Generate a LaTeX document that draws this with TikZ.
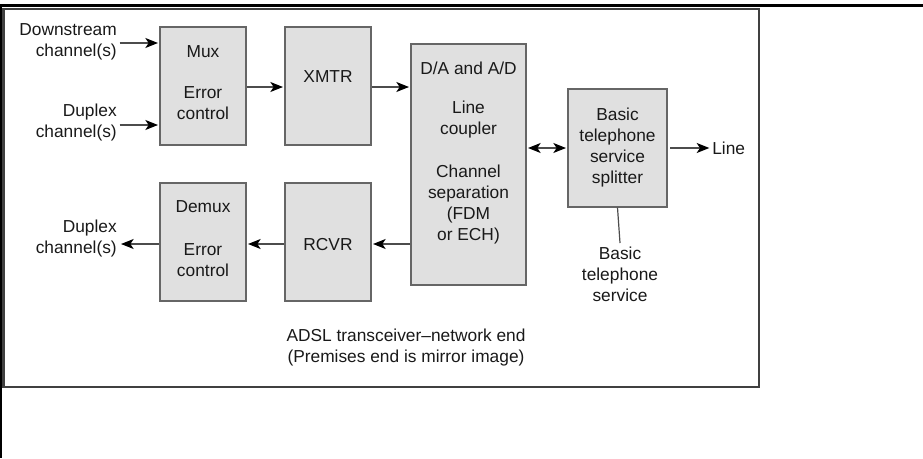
\documentclass[tikz,border=0pt]{standalone}
\usepackage{fontspec}
\setmainfont{Liberation Sans}
\usetikzlibrary{arrows.meta}

\begin{document}
\begin{tikzpicture}[x=0.75pt,y=-0.75pt,
    blk/.style={draw=black!60, fill=black!12, line width=1pt, inner sep=0pt},
    lbl/.style={font=\fontsize{13}{15.75}\selectfont, text=black!90, align=center, inner sep=0pt},
    wire/.style={draw=black!70, line width=0.9pt},
    arr/.style={wire, -{Stealth[length=9.5pt,width=7.5pt,inset=2.5pt,color=black]}},
    darr/.style={wire, {Stealth[length=9.5pt,width=7.5pt,inset=2.5pt,color=black]}-{Stealth[length=9.5pt,width=7.5pt,inset=2.5pt,color=black]}}]
  \useasboundingbox (0,0) rectangle (923,458);

  % 1. table lines and the figure frame
  \draw[line width=2pt] (0,5.5) -- (923,5.5);
  \draw[line width=1.3pt] (0.8,5) -- (0.8,458);
  \draw[black!75, line width=1.6pt] (3.5,9) rectangle (759,387);

  % 2. the blocks
  \node[blk, minimum width=64.5pt, minimum height=88.5pt] (mux) at (203,86) {};
  \node[blk, minimum width=64.5pt, minimum height=88.5pt] (xmtr) at (328,86) {};
  \node[blk, minimum width=64.5pt, minimum height=88.5pt] (demux) at (203,242) {};
  \node[blk, minimum width=64.5pt, minimum height=88.5pt] (rcvr) at (328,242) {};
  \node[blk, minimum width=86.25pt, minimum height=180.75pt] (dac) at (468.5,164.5) {};
  \node[blk, minimum width=74.25pt, minimum height=88.5pt] (split) at (617.5,148) {};

  % 3. texts inside the blocks
  \node[lbl] (muxa) at (203,52) {Mux};
  \node[lbl] (muxb) at (203,103) {Error\\control};
  \node[lbl] (demuxa) at (203,207) {Demux};
  \node[lbl] (demuxb) at (203,260) {Error\\control};
  \node[lbl] (xmtrt) at (328,77) {XMTR};
  \node[lbl] (rcvrt) at (328,245) {RCVR};
  \node[lbl] (daca) at (468.5,68) {D/A and A/D};
  \node[lbl] (dacb) at (468.5,120) {Line\\coupler};
  \node[lbl] (dacc) at (468.5,205) {Channel\\separation\\(FDM\\or ECH)};
  \node[lbl] (splitt) at (617.5,148) {Basic\\telephone\\service\\splitter};

  % 4. outside texts
  \node[lbl, align=right, anchor=east] (dn) at (117,42) {Downstream\\channel(s)};
  \node[lbl, align=right, anchor=east] (dpi) at (117,123) {Duplex\\channel(s)};
  \node[lbl, align=right, anchor=east] (dpo) at (117,239) {Duplex\\channel(s)};
  \node[lbl, anchor=west] (line) at (712,148) {Line};
  \node[lbl, anchor=north] (bts) at (620,247) {Basic\\telephone\\service};
  \node[lbl] (cap) at (406,348) {ADSL transceiver--network end\\(Premises end is mirror image)};

  % 5. connectors
  \draw[arr, shorten <=2pt, shorten >=1pt] ([yshift=-0.75pt]dn.east) -- ([yshift=-0.75pt]dn.east -| mux.west);
  \draw[arr, shorten <=2pt, shorten >=1pt] ([yshift=-1.5pt]dpi.east) -- ([yshift=-1.5pt]dpi.east -| mux.west);
  \draw[arr, shorten >=1pt] ([yshift=-0.75pt]mux.east) -- ([yshift=-0.75pt]xmtr.west);
  \draw[arr, shorten >=1pt] ([yshift=-0.75pt]xmtr.east) -- ([yshift=-0.75pt]xmtr.east -| dac.west);
  \draw[darr, shorten <=1pt, shorten >=1pt] (split.west -| dac.east) -- (split.west);
  \draw[arr, shorten <=2pt, shorten >=2pt] (split.east) -- (line.west);
  \draw[arr, shorten >=1pt] ([yshift=-1.5pt]rcvr.east -| dac.west) -- ([yshift=-1.5pt]rcvr.east);
  \draw[arr, shorten >=1pt] ([yshift=-1.5pt]rcvr.west) -- ([yshift=-1.5pt]demux.east);
  \draw[arr, shorten >=3pt] ([yshift=-1.5pt]demux.west) -- ([yshift=-1.5pt]demux.west -| dpo.east);
  \draw[wire] (split.south) -- ([yshift=3pt]bts.north);
\end{tikzpicture}
\end{document}
